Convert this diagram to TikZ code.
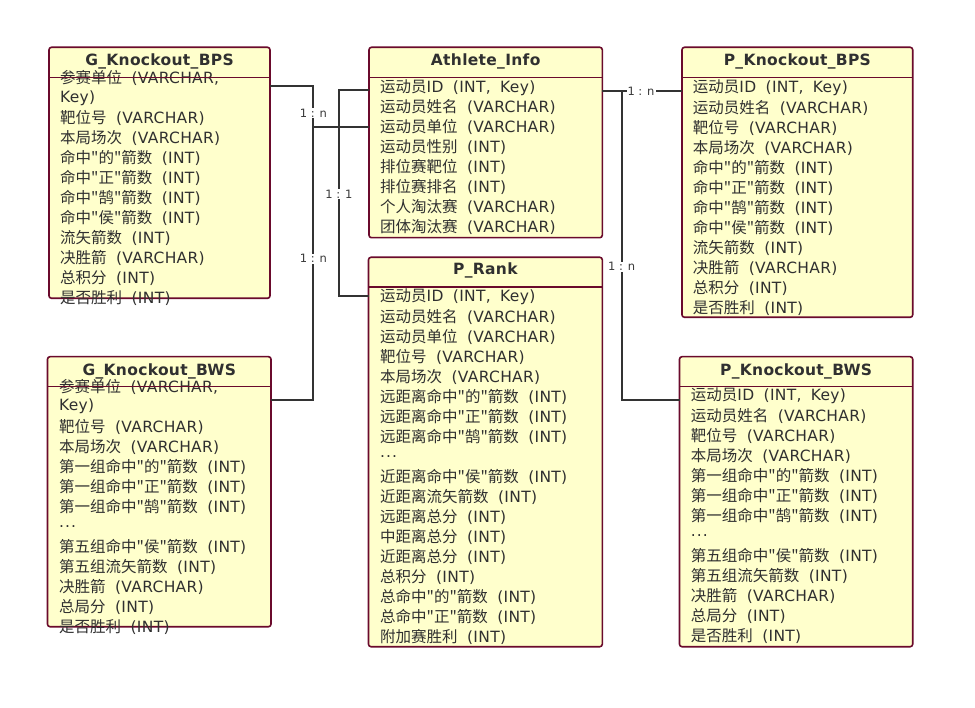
\documentclass[tikz,border=0pt]{standalone}
\usepackage{fontspec}
\setmainfont{DejaVu Sans}[WordSpace=1.8, LetterSpace=2]
\newfontfamily\lblfont{DejaVu Sans}
\newfontfamily\cjk{Noto Sans CJK SC}[Scale=1.0]
\newcommand\zh[1]{{\cjk #1}}
\newcommand\mydots{.\kern1pt.\kern1pt.}
\definecolor{tblborder}{HTML}{6A0A2C}
\definecolor{tblfill}{HTML}{FFFFCC}
\definecolor{txt}{HTML}{303030}
\definecolor{linec}{HTML}{333333}
\definecolor{lblc}{HTML}{3A3A3A}
\tikzset{
  tbl/.style={draw=tblborder, fill=tblfill, line width=1.6pt, rounded corners=2.5pt, inner sep=0pt, outer sep=0pt, anchor=north west},
  sepline/.style={draw=tblborder, line width=1.6pt},
  ttl/.style={font=\fontsize{15.5}{18}\selectfont\bfseries, text=txt, inner sep=0pt},
  rowtxt/.style={font=\fontsize{15.5}{18}\selectfont, text=txt, inner sep=0pt, anchor=west},
  conn/.style={draw=linec, line width=2pt},
  lbl/.style={font=\lblfont\fontsize{11.5}{13}\selectfont, text=lblc, fill=white, inner sep=1pt},
}
\newcommand\tablerows[4]{%
  \foreach \rowtext [count=\i] in {#4} {\node[rowtxt] (#1-\i) at (#2, {#3+20*(\i-1)}) {\rowtext};}%
}
\begin{document}
\begin{tikzpicture}[x=1pt, y=-1pt]
\useasboundingbox[fill=white] (0,0) rectangle (975,708);

% junction points of the connectors
\coordinate (j1) at (313.3,127.3);
\coordinate (j2) at (339,296.5);
\coordinate (j3) at (621.7,400);

% tables
\node[tbl, minimum width=221pt, minimum height=251pt] (gbps) at (49,47.3) {};
\node[tbl, minimum width=233.3pt, minimum height=190.4pt] (ath) at (369,47.3) {};
\node[tbl, minimum width=230.7pt, minimum height=270pt] (pbps) at (682,47.3) {};
\node[tbl, minimum width=233.8pt, minimum height=389.4pt] (prank) at (368.5,257.3) {};
\node[tbl, minimum width=223.5pt, minimum height=270pt] (gbws) at (47.5,356.7) {};
\node[tbl, minimum width=233.2pt, minimum height=290pt] (pbws) at (679.5,356.7) {};

\coordinate (aE) at ([yshift=-43.4pt]ath.north east);
\draw[conn] ([yshift=-38.4pt]gbps.north east) -| (j1) -- (ath.west |- j1);
\draw[conn] ([yshift=-43.3pt]gbws.north east) -| (j1);
\draw[conn] ([yshift=-42.7pt]ath.north west) -| (j2) -- (prank.west |- j2);
\draw[conn] (aE) -- (pbps.west |- aE);
\draw[conn] (aE) -| (j3) -- (pbws.west |- j3);

\node[lbl] (l1) at (313.3,113.3) {1 : n};
\node[lbl] (l2) at (313.3,258.7) {1 : n};
\node[lbl] (l3) at (339,194) {1 : 1};
\node[lbl] (l4) at (641,91) {1 : n};
\node[lbl] (l5) at (621.7,266.7) {1 : n};

% titles
\node[ttl] (gbpsT) at ([yshift=-14.5pt]gbps.north) {G\_Knockout\_BPS};
\node[ttl] (athT) at ([yshift=-14.5pt]ath.north) {Athlete\_Info};
\node[ttl] (pbpsT) at ([yshift=-14.5pt]pbps.north) {P\_Knockout\_BPS};
\node[ttl] (prankT) at ([yshift=-13.6pt]prank.north) {P\_Rank};
\node[ttl] (gbwsT) at ([yshift=-14.3pt]gbws.north) {G\_Knockout\_BWS};
\node[ttl] (pbwsT) at ([yshift=-14.3pt]pbws.north) {P\_Knockout\_BWS};

% rows
\tablerows{gbpsR}{60}{78.3}{{\zh{参赛单位} (VARCHAR,},{Key)},{\zh{靶位号} (VARCHAR)},{\zh{本局场次} (VARCHAR)},{\zh{命中"的"箭数} (INT)},{\zh{命中"正"箭数} (INT)},{\zh{命中"鹄"箭数} (INT)},{\zh{命中"侯"箭数} (INT)},{\zh{流矢箭数} (INT)},{\zh{决胜箭} (VARCHAR)},{\zh{总积分} (INT)},{\zh{是否胜利} (INT)}}
\tablerows{athR}{380}{87.3}{{\zh{运动员}ID (INT, Key)},{\zh{运动员姓名} (VARCHAR)},{\zh{运动员单位} (VARCHAR)},{\zh{运动员性别} (INT)},{\zh{排位赛靶位} (INT)},{\zh{排位赛排名} (INT)},{\zh{个人淘汰赛} (VARCHAR)},{\zh{团体淘汰赛} (VARCHAR)}}
\tablerows{pbpsR}{692.7}{87.7}{{\zh{运动员}ID (INT, Key)},{\zh{运动员姓名} (VARCHAR)},{\zh{靶位号} (VARCHAR)},{\zh{本局场次} (VARCHAR)},{\zh{命中"的"箭数} (INT)},{\zh{命中"正"箭数} (INT)},{\zh{命中"鹄"箭数} (INT)},{\zh{命中"侯"箭数} (INT)},{\zh{流矢箭数} (INT)},{\zh{决胜箭} (VARCHAR)},{\zh{总积分} (INT)},{\zh{是否胜利} (INT)}}
\tablerows{prankR}{380}{296.7}{{\zh{运动员}ID (INT, Key)},{\zh{运动员姓名} (VARCHAR)},{\zh{运动员单位} (VARCHAR)},{\zh{靶位号} (VARCHAR)},{\zh{本局场次} (VARCHAR)},{\zh{远距离命中"的"箭数} (INT)},{\zh{远距离命中"正"箭数} (INT)},{\zh{远距离命中"鹄"箭数} (INT)},{\mydots},{\zh{近距离命中"侯"箭数} (INT)},{\zh{近距离流矢箭数} (INT)},{\zh{远距离总分} (INT)},{\zh{中距离总分} (INT)},{\zh{近距离总分} (INT)},{\zh{总积分} (INT)},{\zh{总命中"的"箭数} (INT)},{\zh{总命中"正"箭数} (INT)},{\zh{附加赛胜利} (INT)}}
\tablerows{gbwsR}{59}{386.7}{{\zh{参赛单位} (VARCHAR,},{Key)},{\zh{靶位号} (VARCHAR)},{\zh{本局场次} (VARCHAR)},{\zh{第一组命中"的"箭数} (INT)},{\zh{第一组命中"正"箭数} (INT)},{\zh{第一组命中"鹄"箭数} (INT)},{\mydots},{\zh{第五组命中"侯"箭数} (INT)},{\zh{第五组流矢箭数} (INT)},{\zh{决胜箭} (VARCHAR)},{\zh{总局分} (INT)},{\zh{是否胜利} (INT)}}
\tablerows{pbwsR}{690.7}{395.7}{{\zh{运动员}ID (INT, Key)},{\zh{运动员姓名} (VARCHAR)},{\zh{靶位号} (VARCHAR)},{\zh{本局场次} (VARCHAR)},{\zh{第一组命中"的"箭数} (INT)},{\zh{第一组命中"正"箭数} (INT)},{\zh{第一组命中"鹄"箭数} (INT)},{\mydots},{\zh{第五组命中"侯"箭数} (INT)},{\zh{第五组流矢箭数} (INT)},{\zh{决胜箭} (VARCHAR)},{\zh{总局分} (INT)},{\zh{是否胜利} (INT)}}

% separators (drawn over text, as in the reference)
\foreach \t/\d in {gbps/30.4, ath/30.4, pbps/30.4, prank/30, gbws/30, pbws/30}
  \draw[sepline] ([yshift=-\d pt]\t.north west) -- ([yshift=-\d pt]\t.north east);
\end{tikzpicture}
\end{document}
